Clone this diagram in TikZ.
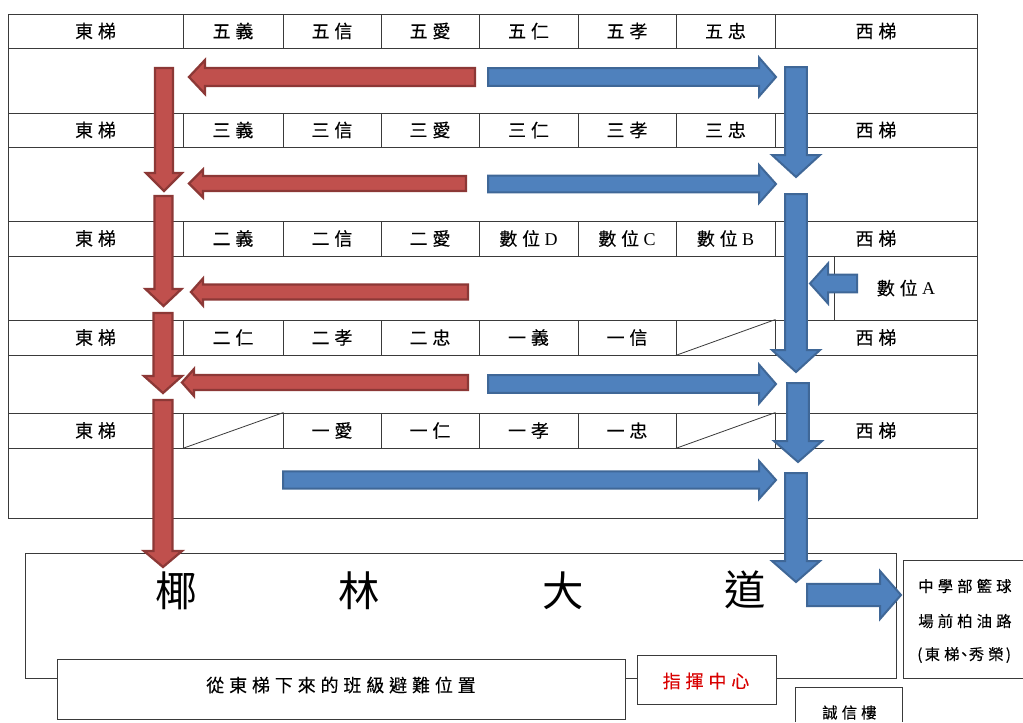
\documentclass[tikz,border=0pt]{standalone}
\usepackage{fontspec}
\setmainfont{Liberation Serif}
\newfontfamily\cjk[LetterSpace=27,FakeBold=0.15]{Noto Sans CJK TC}
\newfontfamily\cjkbig{Noto Sans CJK TC}
\definecolor{redfill}{HTML}{C0504D}
\definecolor{redline}{HTML}{8C3836}
\definecolor{bluefill}{HTML}{4F81BD}
\definecolor{blueline}{HTML}{3F6797}
\definecolor{gridline}{HTML}{3A3A3A}
\tikzset{
  x=0.75pt,y=-0.75pt,
  gridbox/.style={draw=gridline,line width=0.7pt,inner sep=0pt,font=\cjk\fontsize{13.5}{16}\selectfont},
  plainline/.style={draw=gridline,line width=0.7pt},
  label/.style={inner sep=0pt,font=\cjk\fontsize{13.5}{16}\selectfont},
  smalllabel/.style={inner sep=0pt,anchor=west,font=\cjk\fontsize{11.5}{14}\selectfont},
  roadlabel/.style={inner sep=0pt,font=\cjkbig\fontsize{31}{34}\selectfont},
  redarrow/.style={fill=redfill,draw=redline,line width=1.7pt,line join=miter},
  bluearrow/.style={fill=bluefill,draw=blueline,line width=1.5pt,line join=miter},
}
% name, x1, x2, y1, y2, text
\newcommand{\CellBox}[6]{\node[gridbox,minimum width={(#3-#2)*0.75pt},minimum height={(#5-#4)*0.75pt}] (#1) at ({(#2+#3)/2},{(#4+#5)/2}) {#6};}
% style, tail x, tip x, y, shaft half, head half, head base x
\newcommand{\BArrowH}[7]{\draw[#1] ({#2},{#4-#5+0.6}) -- ({#7},{#4-#5+0.6}) -- ({#7},{#4-#6}) -- ({#3},{#4}) -- ({#7},{#4+#6}) -- ({#7},{#4+#5-0.6}) -- ({#2},{#4+#5-0.6}) -- cycle;}
% style, x, top y, tip y, shaft half, head half, head base y
\newcommand{\BArrowV}[7]{\draw[#1] ({#2-#5+0.6},{#3}) -- ({#2-#5+0.6},{#7}) -- ({#2-#6},{#7}) -- ({#2},{#4}) -- ({#2+#6},{#7}) -- ({#2+#5-0.6},{#7}) -- ({#2+#5-0.6},{#3}) -- cycle;}
% row: id, y1, y2, eight labels
\newcommand{\TableRow}[9]{%
  \CellBox{#1a}{8}{183}{#2}{#3}{東梯}
  \CellBox{#1b}{183}{283}{#2}{#3}{#4}
  \CellBox{#1c}{283}{381}{#2}{#3}{#5}
  \CellBox{#1d}{381}{479}{#2}{#3}{#6}
  \CellBox{#1e}{479}{578}{#2}{#3}{#7}
  \CellBox{#1f}{578}{676}{#2}{#3}{#8}
  \CellBox{#1g}{676}{775}{#2}{#3}{#9}
  \CellBox{#1h}{775}{977}{#2}{#3}{西梯}
}
\begin{document}
\begin{tikzpicture}
\useasboundingbox (0,0) rectangle (1023,722);
\fill[white] (0,0) rectangle (1023,722);
% table
\CellBox{tableframe}{8}{977}{14}{518}{}
\TableRow{rowA}{14}{48}{五義}{五信}{五愛}{五仁}{五孝}{五忠}
\TableRow{rowB}{113}{147}{三義}{三信}{三愛}{三仁}{三孝}{三忠}
\TableRow{rowC}{221}{256}{二義}{二信}{二愛}{數位\kern.25em\textrm{D}}{數位\kern.25em\textrm{C}}{數位\kern.25em\textrm{B}}
\TableRow{rowD}{320}{355}{二仁}{二孝}{二忠}{一義}{一信}{}
\TableRow{rowE}{413}{448}{}{一愛}{一仁}{一孝}{一忠}{}
\draw[plainline,line width=0.6pt] (rowDg.south west) -- (rowDg.north east);
\draw[plainline,line width=0.6pt] (rowEb.south west) -- (rowEb.north east);
\draw[plainline,line width=0.6pt] (rowEg.south west) -- (rowEg.north east);
\coordinate (digAtop) at (834,256);
\coordinate (digAbot) at (834,320);
\draw[plainline] (digAtop) -- (digAbot);
\node[label] (digA) at (906,288) {數位\kern.25em\textrm{A}};
% road
\CellBox{road}{25.5}{896}{553}{678}{}
\node[roadlabel] (roadA) at (176,591) {椰};
\node[roadlabel] (roadB) at (359,591) {林};
\node[roadlabel] (roadC) at (563,591) {大};
\node[roadlabel] (roadD) at (745,590) {道};
\node[gridbox,fill=white,minimum width={568*0.75pt},minimum height={60*0.75pt}] (evac) at (341.5,689) {};
\node[label] (evactext) at (341,685) {從東梯下來的班級避難位置};
\draw[plainline] (625.5,678) -- (637,678);
\node[gridbox,fill=white,minimum width={139*0.75pt},minimum height={48.5*0.75pt}] (command) at (706.5,680) {};
\node[label,text=red!85!black] (commandtext) at (706,681) {指揮中心};
% open boxes cut by the page edge
\coordinate (courtA) at (1023,560);
\coordinate (courtB) at (903,560);
\coordinate (courtC) at (903,678);
\coordinate (courtD) at (1023,678);
\draw[plainline] (courtA) -- (courtB) -- (courtC) -- (courtD);
\node[smalllabel] (courtL1) at (918,586) {中學部籃球};
\node[smalllabel] (courtL2) at (918,621) {場前柏油路};
\node[smalllabel] (courtL3) at (917,655) {(\kern.15em東梯\kern-.2em、\kern-.2em秀榮\kern.15em)};
\coordinate (bldgA) at (795,722);
\coordinate (bldgB) at (795,687);
\coordinate (bldgC) at (902,687);
\coordinate (bldgD) at (902,722);
\draw[plainline] (bldgA) -- (bldgB) -- (bldgC) -- (bldgD);
\node[smalllabel] (bldg) at (822,712.5) {誠信樓};
% red arrows
\BArrowH{redarrow}{475}{189}{77}{9.5}{17}{205}
\BArrowH{redarrow}{466}{189}{183.5}{8}{14}{203}
\BArrowH{redarrow}{468}{191}{292}{8}{13.5}{203}
\BArrowH{redarrow}{468}{182}{382.5}{8}{13.5}{194}
\BArrowV{redarrow}{164}{68}{191}{9.5}{18}{173}
\BArrowV{redarrow}{163.5}{196}{306}{9.5}{18}{289}
\BArrowV{redarrow}{163}{313}{393}{10}{19}{376}
\BArrowV{redarrow}{163}{400}{567}{10}{19}{551}
% blue arrows
\BArrowH{bluearrow}{488}{776}{77}{9.5}{19.5}{759}
\BArrowH{bluearrow}{488}{776}{184}{9}{19}{759}
\BArrowH{bluearrow}{488}{776}{384}{9.5}{19.5}{759}
\BArrowH{bluearrow}{283}{776}{480}{9.3}{19}{759}
\BArrowH{bluearrow}{807}{901}{595}{11.7}{24}{880}
\BArrowH{bluearrow}{857}{810}{283.5}{9.5}{20}{828}
\BArrowV{bluearrow}{796}{67}{177}{11.5}{24}{155}
\BArrowV{bluearrow}{796}{194}{372}{11.5}{24}{350}
\BArrowV{bluearrow}{798}{383}{462}{11.5}{24}{441}
\BArrowV{bluearrow}{796}{473}{582}{11.5}{24}{561}
\end{tikzpicture}
\end{document}
